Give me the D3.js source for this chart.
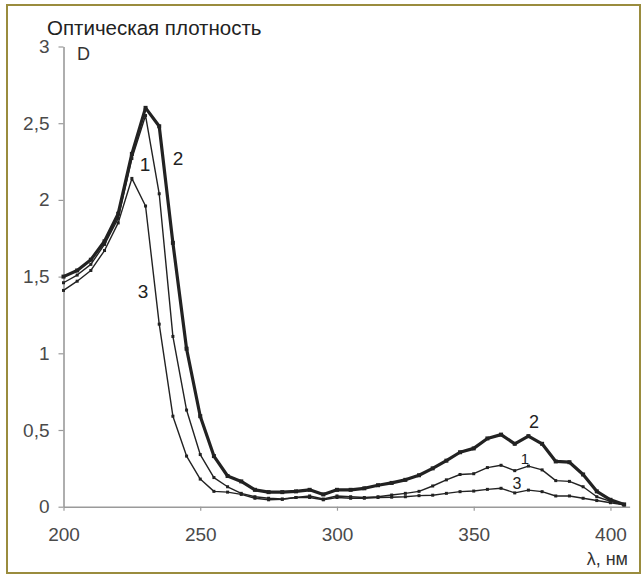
<!DOCTYPE html>
<html><head><meta charset="utf-8">
<script src="https://cdn.jsdelivr.net/npm/d3@7"></script>
<style>body{margin:0;background:#fff}svg{display:block}text{font-family:"Liberation Sans",Arial,sans-serif}</style>
</head><body>
<svg id="c" width="643" height="577"></svg>
<script>
const wavelengths = d3.range(200, 406, 5);
const curve1 = [1.46,1.51,1.58,1.71,1.88,2.27,2.55,2.04,1.11,0.63,0.34,0.19,0.13,0.087,0.065,0.055,0.05,0.06,0.07,0.05,0.07,0.065,0.06,0.065,0.076,0.087,0.10,0.135,0.175,0.21,0.215,0.255,0.27,0.235,0.265,0.24,0.17,0.165,0.13,0.065,0.035,0.012];
const curve2 = [1.50,1.54,1.61,1.73,1.91,2.30,2.60,2.48,1.72,1.03,0.59,0.33,0.20,0.165,0.11,0.095,0.095,0.10,0.11,0.08,0.11,0.11,0.12,0.14,0.155,0.175,0.205,0.25,0.30,0.355,0.38,0.445,0.47,0.41,0.46,0.41,0.295,0.29,0.21,0.10,0.045,0.015];
const curve3 = [1.41,1.47,1.54,1.67,1.85,2.14,1.96,1.19,0.59,0.33,0.18,0.10,0.095,0.08,0.055,0.045,0.048,0.06,0.06,0.045,0.06,0.055,0.055,0.06,0.062,0.065,0.072,0.075,0.087,0.098,0.102,0.113,0.12,0.09,0.108,0.098,0.07,0.07,0.055,0.04,0.026,0.012];
const xTicks = [200,250,300,350,400];
const yTicks = [0,0.5,1,1.5,2,2.5,3];
const yTickLabels = ["0","0,5","1","1,5","2","2,5","3"];
const title = "Оптическая плотность";
const yName = "D";
const xName = "λ, нм";

const svg = d3.select("#c");
svg.append("rect").attr("x",7).attr("y",5).attr("width",633).attr("height",568)
  .attr("fill","#fff").attr("stroke","#9a8c3e").attr("stroke-width",2);

const x = d3.scaleLinear().domain([200,407]).range([63.5,629.6]);
const y = d3.scaleLinear().domain([0,3]).range([506.7,46.5]);

const gx = svg.append("g").attr("transform",`translate(0,${y(0)})`)
  .call(d3.axisBottom(x).tickValues(xTicks).tickSize(4).tickSizeOuter(0).tickPadding(17));
const gy = svg.append("g").attr("transform",`translate(${x(200)},0)`)
  .call(d3.axisLeft(y).tickValues(yTicks).tickFormat((d,i)=>yTickLabels[i]).tickSize(5).tickSizeOuter(0).tickPadding(9));
[gx,gy].forEach(g=>{
  g.select(".domain").attr("stroke","#9a9a9a").attr("stroke-width",1.6);
  g.selectAll(".tick line").attr("stroke","#9a9a9a").attr("stroke-width",1.2);
  g.selectAll(".tick text").attr("fill","#4a4a4a").style("font-size","19px").style("font-family","'Liberation Sans',Arial,sans-serif");
});

svg.append("text").attr("x",47).attr("y",35).attr("fill","#222").style("font-size","20.5px").text(title);
svg.append("text").attr("x",77).attr("y",60).attr("fill","#333").style("font-size","18px").text(yName);
svg.append("text").attr("x",628).attr("y",565).attr("text-anchor","end").attr("fill","#333").style("font-size","18px").text(xName);

const series = [
  {v:curve3, w:1.4, m:3},
  {v:curve1, w:1.4, m:3},
  {v:curve2, w:3.2, m:4}
];
const line = d3.line().x((d,i)=>x(wavelengths[i])).y(d=>y(d));
series.forEach(s=>{
  svg.append("path").datum(s.v).attr("d",line).attr("fill","none")
    .attr("stroke","#222").attr("stroke-width",s.w).attr("stroke-linejoin","round");
  svg.append("g").selectAll("rect").data(s.v).join("rect")
    .attr("x",(d,i)=>x(wavelengths[i])-s.m/2).attr("y",d=>y(d)-s.m/2)
    .attr("width",s.m).attr("height",s.m).attr("fill","#222");
});

const labels = [
  {t:"1", x:145, y:171, s:19},
  {t:"2", x:178, y:165, s:19},
  {t:"3", x:143, y:298, s:19},
  {t:"2", x:534, y:428, s:18},
  {t:"1", x:525, y:464, s:15},
  {t:"3", x:517, y:489, s:16}
];
svg.append("g").selectAll("text").data(labels).join("text")
  .attr("x",d=>d.x).attr("y",d=>d.y).attr("text-anchor","middle")
  .attr("fill","#222").style("font-size",d=>d.s+"px").text(d=>d.t);
</script>
</body></html>
